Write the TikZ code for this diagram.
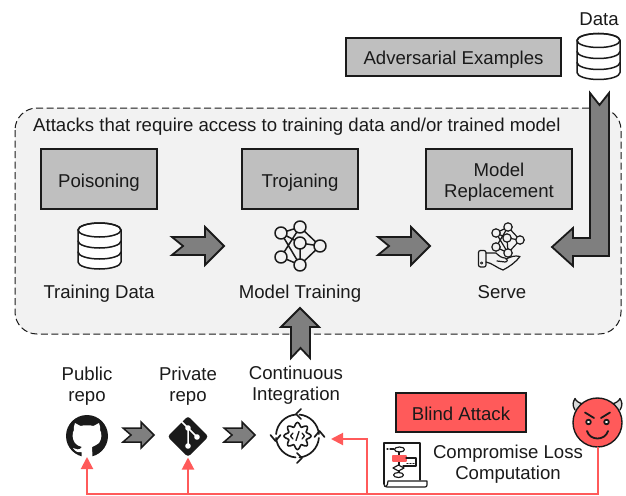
\documentclass[tikz,border=0pt]{standalone}
\usepackage{fontspec}
\setmainfont{Liberation Sans}
\usetikzlibrary{arrows.meta}
\definecolor{ink}{HTML}{1A1A1A}
\definecolor{attackgray}{HTML}{BFBFBF}
\definecolor{panel}{HTML}{F2F2F2}
\definecolor{flow}{HTML}{7F7F7F}
\definecolor{evil}{HTML}{FF5A5A}
\tikzset{
  x=1pt,y=-1pt,
  label text/.style={font=\fontsize{18.6}{21}\selectfont,text=ink,align=center,inner sep=0},
  base text/.style={font=\fontsize{18.6}{21}\selectfont,text=ink,inner sep=0,anchor=base},
  attackbox/.style={draw=ink,line width=1.4pt,fill=attackgray,font=\fontsize{18.6}{21}\selectfont,text=ink,inner sep=0,text height=16pt,text depth=0pt},
  blindbox/.style={attackbox,fill=evil},
  flowarrow/.style={draw=ink,line width=1.8pt,fill=flow,miter limit=10},
  iconline/.style={draw=ink,line width=1.5pt,line cap=round,line join=round},
  netnode/.style={iconline,fill=panel},
  redline/.style={draw=evil,line width=2pt},
  redarrow/.style={redline,-{Triangle[length=12pt,width=12pt]}},
  anchorbox/.style={inner sep=0,outer sep=0,circle,minimum size=#1},
}
\newcommand{\dbicon}[2]{%
  \begin{scope}[shift={(#1,#2)}]
    \path[iconline,fill=white] (-21.5,-16) -- (-21.5,16) arc[x radius=21.5,y radius=7,start angle=180,end angle=0] -- (21.5,-16) arc[x radius=21.5,y radius=7,start angle=0,end angle=-180] -- cycle;
    \draw[iconline] (0,-16) ellipse[x radius=21.5,y radius=7];
    \draw[iconline] (-21.5,-5) arc[x radius=21.5,y radius=7,start angle=180,end angle=0];
    \draw[iconline] (-21.5,6) arc[x radius=21.5,y radius=7,start angle=180,end angle=0];
  \end{scope}}
\newcommand{\smallflow}[1]{%
  \draw[flowarrow,line width=1.5pt,shift={(#1,435)}] (0,-7) -- (18,-7) -- (18,-13) -- (31,0) -- (18,13) -- (18,7) -- (0,7) -- (8,0) -- cycle;}
\newcommand{\midflow}[1]{%
  \draw[flowarrow,shift={(#1,246)}] (0,-9) -- (33,-9) -- (33,-19) -- (52,0) -- (33,19) -- (33,9) -- (0,9) -- (11,0) -- cycle;}
\begin{document}
\begin{tikzpicture}
\useasboundingbox (0,0) rectangle (626,495);
% panel
\draw[draw=ink,line width=1pt,fill=panel,dash pattern=on 7pt off 3.5pt,rounded corners=22pt] (15,108) rectangle (621,334);
\node[base text,anchor=base west] (paneltitle) at (33,131) {Attacks that require access to training data and/or trained model};
% attack boxes
\node[attackbox,minimum width=215pt,minimum height=38pt] (adv) at (453.5,57) {Adversarial Examples};
\node[attackbox,minimum width=116pt,minimum height=60pt] (pois) at (99,179) {Poisoning};
\node[attackbox,minimum width=116pt,minimum height=60pt] (troj) at (300,179) {Trojaning};
\node[attackbox,minimum width=146pt,minimum height=60pt,text height=0pt] (repl) at (499,179) {};
\node[label text] (repltext) at (499,182) {Model\\Replacement};
\node[blindbox,minimum width=130pt,minimum height=39pt] (blind) at (461,412.5) {Blind Attack};
% data
\node[base text] (datalabel) at (599,26) {Data};
\dbicon{598.5}{56.5}
\dbicon{99.5}{246}
\node[base text] (traindata) at (99,298) {Training Data};
\node[base text] (modeltrain) at (300,298) {Model Training};
\node[base text] (serve) at (502,298) {Serve};
% big flow arrows
\midflow{172}
\midflow{378}
\draw[flowarrow] (590,93) -- (599.5,105) -- (609,93) -- (609,256) -- (573,256) -- (573,266) -- (552,247) -- (573,228) -- (573,238) -- (590,238) -- cycle;
\draw[flowarrow] (300,308) -- (319,327) -- (310,327) -- (310,358) -- (300.5,348) -- (291,358) -- (291,327) -- (281,327) -- cycle;
% small flow arrows
\smallflow{123}
\smallflow{224}
% training network
\begin{scope}
  \draw[iconline] (281,233)--(300,227) (281,233)--(300,243) (281,233)--(300,265) (300,227)--(320,246) (300,227)--(281,257) (300,243)--(320,246) (300,243)--(300,265) (320,246)--(300,265) (281,257)--(300,265);
  \foreach \p in {(281,233),(300,227),(300,243),(320,246),(281,257),(300,265)} \draw[netnode] \p circle[radius=6];
\end{scope}
% serve icon
\begin{scope}
  \draw[iconline,line width=1.2pt] (496,233)--(508,227) (496,233)--(507,238) (496,233)--(508,253) (508,227)--(520,240) (508,227)--(496,247) (507,238)--(520,240) (507,238)--(508,253) (520,240)--(508,253) (496,247)--(508,253);
  \foreach \p in {(496,233),(508,227),(507,238),(520,240),(496,247),(508,253)} \draw[netnode,line width=1.2pt] \p circle[radius=4.2];
  \draw[iconline,line width=1.2pt,rounded corners=2pt] (478.5,250.5) rectangle (486,267);
  \draw[iconline,line width=1.2pt] (486,253) -- (496,253) .. controls (499,256) and (502,258) .. (505,258) .. controls (508,259) and (508,262) .. (505,262) -- (497,261);
  \draw[iconline,line width=1.2pt] (506,259) .. controls (510,257) and (515,255) .. (520,256.5) .. controls (516,262) and (509,267) .. (503,270) .. controls (497,268) and (492,263) .. (486,262);
  \draw[iconline,line width=.8pt] (481.7,263) circle[radius=1.2];
\end{scope}
% bottom labels
\node[label text] (pubt) at (87,386.5) {Public\\repo};
\node[label text] (privt) at (188,386) {Private\\repo};
\node[label text] (cit) at (296,385) {Continuous\\Integration};
\node[label text] (cltext) at (508,464.5) {Compromise Loss\\Computation};
% github
\node[anchorbox=42pt,fill=ink] (github) at (87,436) {};
\fill[white] (75,423) -- (80.5,426) .. controls (84,425) and (90,425) .. (93.5,426) -- (99,423) .. controls (100,426) and (100.5,428) .. (100,430) .. controls (102,433) and (102,439) .. (99,443) .. controls (97,445) and (94,446) .. (92,447) -- (92.5,457) -- (81.5,457) -- (81.5,452) .. controls (77,453) and (75,451) .. (73,448) .. controls (76,449) and (79,451) .. (82,447) .. controls (79,446) and (76,445) .. (75,443) .. controls (72,439) and (72,433) .. (74,430) .. controls (73.5,428) and (74,426) .. (75,423) -- cycle;
% git
\node[anchorbox=42pt] (git) at (188,436.5) {};
\fill[ink,rounded corners=3pt] (188,416) -- (208.5,436.5) -- (188,457) -- (167.5,436.5) -- cycle;
\draw[white,line width=1.5pt] (181,421) -- (188,428) -- (188,446) (188,428) -- (197,437);
\fill[white] (188,428) circle[radius=2.8] (197,437) circle[radius=2.8] (188,446) circle[radius=2.8];
% CI
\node[anchorbox=46pt] (ci) at (297.5,436) {};
\begin{scope}[shift={(297.5,436)},iconline,line width=1.7pt]
  \foreach \a in {5,95,185,275} \draw (\a:21.5) arc[radius=21.5,start angle=\a,end angle=\a+80];
  \draw (3.5,-27) -- (-1.5,-22) -- (3.5,-17);
  \draw (-27,-1) -- (-22,5) -- (-17,-1);
  \draw (-0.5,17) -- (4.5,22) -- (-0.5,27);
  \draw (17,1) -- (22,-5) -- (27,1);
  \draw[line width=1.6pt] plot[domain=0:360,samples=97,smooth] (\x:{11.5+2*cos(8*\x)}) -- cycle;
  \draw[line width=1.3pt] (-4.5,-3) -- (-7,0) -- (-4.5,3) (4.5,-3) -- (7,0) -- (4.5,3) (1.5,-4.5) -- (-1.5,4.5);
\end{scope}
% flowchart icon
\begin{scope}[iconline,line width=1.2pt]
  \draw (384,484) -- (384,443) -- (420,443) -- (420,480);
  \draw (384,484) .. controls (384,488) and (388,487) .. (388,481) -- (427,481) -- (427,485) .. controls (427,486.5) and (426,487) .. (425,487) -- (387,487) .. controls (385,487) and (384,486) .. (384,484);
  \draw (387,449) -- (388,449) (390,449) -- (394,449);
  \draw (399.5,449.5) ellipse[x radius=5,y radius=2.5];
  \draw (399,452) -- (399,456) (399,461) -- (399,465) (399,471) -- (399,472.5);
  \draw[fill=evil,draw=evil] (393,456) rectangle (406,461);
  \draw (406,458) -- (416,458) -- (416,466) -- (403,466);
  \draw (398.5,465) -- (404,468) -- (398.5,471) -- (393,468) -- cycle;
  \draw (398.5,475) ellipse[x radius=5,y radius=2.5];
  \draw[line width=1.4pt] (407,463.5) -- (408,463.5) (410,463.5) -- (411,463.5) (413,463.5) -- (414,463.5);
\end{scope}
% devil
\begin{scope}[iconline,line width=1.3pt]
  \draw[fill=attackgray!60] (575,410) .. controls (572,405) and (573,402) .. (575,398.5) .. controls (576,401) and (579,403) .. (583,404);
  \draw[fill=attackgray!60] (620,410) .. controls (623,405) and (622,402) .. (620,398.5) .. controls (619,401) and (616,403) .. (612,404);
\end{scope}
\node[anchorbox=49pt,fill=evil,draw=ink,line width=1.4pt] (devil) at (597.5,422.5) {};
\begin{scope}[iconline,line width=1.8pt]
  \draw (585,412.5) -- (594,418) (610,412.5) -- (601,418);
  \draw[fill=white] (588.5,422) circle[radius=2.3] (606.5,422) circle[radius=2.3];
  \draw (587,431) .. controls (590,441) and (605,441) .. (608,431);
\end{scope}
% red connectors
\coordinate (citarget) at (331,439);
\coordinate (bus) at (367,494);
\draw[redarrow] (devil.south) |- (bus) -| (github.south);
\draw[redarrow] (git.south |- bus) -- (git.south);
\draw[redarrow] (bus) |- (citarget);
\end{tikzpicture}
\end{document}
